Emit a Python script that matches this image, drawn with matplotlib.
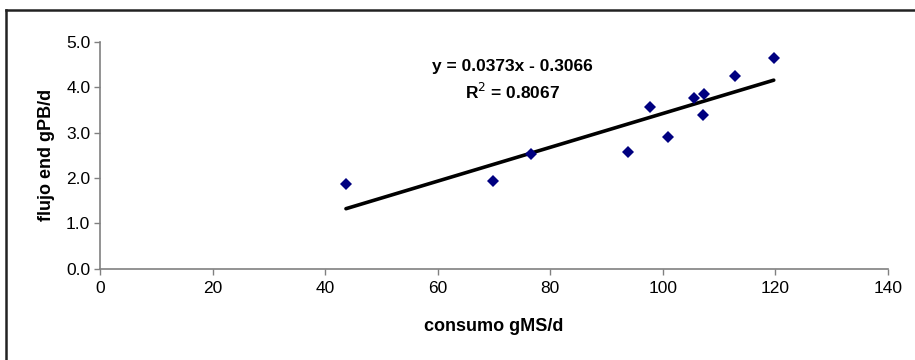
import numpy as np
import matplotlib.pyplot as plt
from matplotlib.lines import Line2D

plt.rcParams['font.family'] = ['Liberation Sans', 'DejaVu Sans']

# datos
consumo = [43.7, 69.9, 76.6, 93.8, 97.8, 101.0, 105.6, 107.1, 107.3, 112.8, 119.7]
flujo = [1.86, 1.93, 2.52, 2.57, 3.57, 2.90, 3.76, 3.39, 3.86, 4.25, 4.64]
pendiente = 0.0373
intercepto = -0.3066
r2 = 0.8067
xticks = [0, 20, 40, 60, 80, 100, 120, 140]
yticks = [0.0, 1.0, 2.0, 3.0, 4.0, 5.0]

fig = plt.figure(figsize=(9.15, 3.6), dpi=100)
ax = fig.add_axes([100/915, (360-268.7)/360, 788/915, (268.7-42)/360])

x_fit = np.array([min(consumo), max(consumo)])
ax.plot(x_fit, pendiente*x_fit + intercepto, color='black', lw=2.6, solid_capstyle='round', zorder=2)
ax.plot(consumo, flujo, 'D', color='#000080', markersize=6.5, markeredgewidth=0, zorder=3)

ax.set_xlim(0, 140)
ax.set_ylim(0, 5)
ax.set_xticks(xticks)
ax.set_yticks(yticks)
ax.set_yticklabels([f'{v:.1f}' for v in yticks])
for s in ['top', 'right']:
    ax.spines[s].set_visible(False)
for s in ['left', 'bottom']:
    ax.spines[s].set_color('#808080')
    ax.spines[s].set_linewidth(1.2)
ax.tick_params(axis='both', colors='#808080', labelcolor='black', labelsize=12.5, length=4, width=1)
ax.tick_params(axis='x', pad=5)
ax.tick_params(axis='y', pad=3)

ax.set_xlabel('consumo gMS/d', fontsize=13, fontweight='bold', labelpad=16)
ax.set_ylabel('flujo end gPB/d', fontsize=13, fontweight='bold', labelpad=8)

ax.text(73.3, 4.46, f'y = {pendiente}x - {abs(intercepto)}', fontsize=12.5, fontweight='bold',
        ha='center', va='center')
ax.text(73.3, 3.9, f'R$^2$ = {r2}', fontsize=12.5, fontweight='bold', ha='center', va='center')

# marco del grafico (recortado arriba y a la izquierda)
fig.add_artist(Line2D([5.5/915, 1.0], [1 - 9.5/360, 1 - 9.5/360], color='#222222', lw=1.8))
fig.add_artist(Line2D([5.5/915, 5.5/915], [0.0, 1 - 9.5/360], color='#222222', lw=1.8))

fig.savefig('out.png', dpi=100)
